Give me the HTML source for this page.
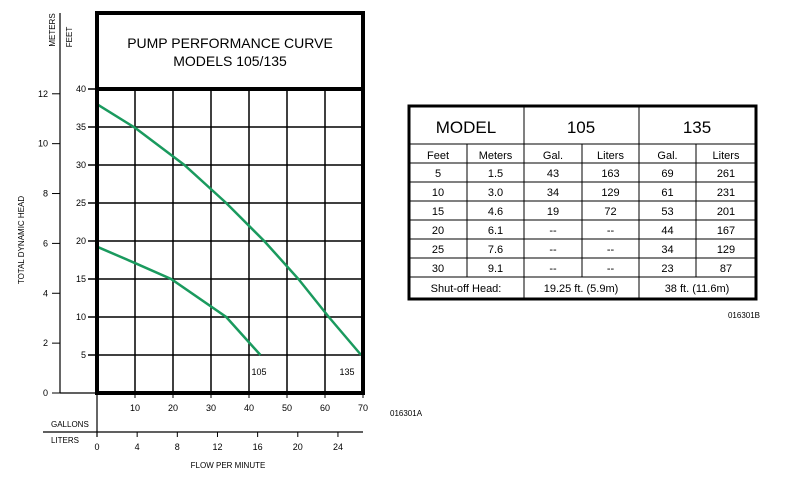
<!DOCTYPE html>
<html><head><meta charset="utf-8"><style>
body{margin:0;background:#fff;font-family:"Liberation Sans",Arial,sans-serif;}
svg{display:block}
text{font-family:"Liberation Sans",Arial,sans-serif;fill:#000}
</style></head><body>
<svg id="chart" width="795" height="487" viewBox="0 0 795 487" xmlns="http://www.w3.org/2000/svg">
<g id="grid"></g>
<g id="curves"></g>
<g id="axes"></g>
<g id="table"></g>
</svg>
<script>
const gpmTicks=[10,20,30,40,50,60,70];
const ftTicks=[5,10,15,20,25,30,35,40];
const mTicks=[0,2,4,6,8,10,12];
const literTicks=[0,4,8,12,16,20,24];
const curve135Gpm=[0,10,23,34,44,53,61,69.5];
const curve135Ft=[38,34.9,30,25,20,15,10,5];
const curve105Gpm=[0,10,19.5,34,43];
const curve105Ft=[19.25,17.1,15,10,5];
const tableHead=["Feet","Meters","Gal.","Liters","Gal.","Liters"];
const tableRows=[["5","1.5","43","163","69","261"],["10","3.0","34","129","61","231"],["15","4.6","19","72","53","201"],["20","6.1","--","--","44","167"],["25","7.6","--","--","34","129"],["30","9.1","--","--","23","87"]];

const NS="http://www.w3.org/2000/svg";
const X0=97,X1=363,Y0=393,Y1=89;
const x=g=>X0+(X1-X0)*g/70;
const y=f=>Y0-(Y0-Y1)*f/40;
const ym=m=>y(m*3.2808);
const xl=l=>X0+(X1-X0)*l/(70*0.3785);
function mk(p,tag,a,txt){const e=document.createElementNS(NS,tag);for(const k in a)e.setAttribute(k,a[k]);if(txt!==undefined)e.textContent=txt;p.appendChild(e);return e;}
const G=document.getElementById('grid'),C=document.getElementById('curves'),A=document.getElementById('axes'),T=document.getElementById('table');

gpmTicks.slice(0,-1).forEach(g=>{const l=mk(G,'line',{x1:x(g),x2:x(g),y1:Y1,y2:Y0,stroke:'#000','stroke-width':1.5});

});
ftTicks.slice(0,-1).forEach(f=>{const l=mk(G,'line',{x1:88,x2:X1,y1:y(f),y2:y(f),stroke:'#000','stroke-width':1.5});


const t=mk(A,'text',{x:86,y:y(f)+3,'font-size':9,'text-anchor':'end'},f);

});
const t40=mk(A,'text',{x:86,y:y(40)+3,'font-size':9,'text-anchor':'end'},'40');


mk(A,'line',{x1:88,x2:97,y1:y(40),y2:y(40),stroke:'#000','stroke-width':1.5});

function pl(gs,fs,name){const p=mk(C,'polyline',{points:gs.map((g,i)=>x(g)+','+y(fs[i])).join(' '),fill:'none',stroke:'#1a9a5e','stroke-width':2.5});

}
pl(curve135Gpm,curve135Ft,'curve-135');
pl(curve105Gpm,curve105Ft,'curve-105');
mk(A,'text',{x:259,y:375,'font-size':9,'text-anchor':'middle'},'105');
mk(A,'text',{x:347,y:375,'font-size':9,'text-anchor':'middle'},'135');

// title box and plot frame
mk(A,'rect',{x:X0,y:13,width:X1-X0,height:Y0-13,fill:'none',stroke:'#000','stroke-width':4});
mk(A,'line',{x1:X0,x2:X1,y1:Y1,y2:Y1,stroke:'#000','stroke-width':4});
mk(A,'text',{x:230,y:48,'font-size':14,'text-anchor':'middle'},'PUMP PERFORMANCE CURVE');
mk(A,'text',{x:230,y:66,'font-size':14,'text-anchor':'middle'},'MODELS 105/135');

// meters axis
mk(A,'line',{x1:60,x2:60,y1:13,y2:Y0,stroke:'#000','stroke-width':1.2});
mk(A,'line',{x1:60,x2:X0,y1:Y0,y2:Y0,stroke:'#000','stroke-width':1.2});
mTicks.forEach(m=>{mk(A,'line',{x1:52,x2:60,y1:ym(m),y2:ym(m),stroke:'#000','stroke-width':1});
const t=mk(A,'text',{x:48,y:ym(m)+3,'font-size':9,'text-anchor':'end'},m);

});
mk(A,'text',{transform:'translate(55,30) rotate(-90)','font-size':8,'text-anchor':'middle'},'METERS');
mk(A,'text',{transform:'translate(72,37) rotate(-90)','font-size':8,'text-anchor':'middle'},'FEET');
mk(A,'text',{transform:'translate(24,240) rotate(-90)','font-size':8,'text-anchor':'middle'},'TOTAL DYNAMIC HEAD');

// bottom axes
mk(A,'line',{x1:X0,x2:X0,y1:Y0,y2:437,stroke:'#000','stroke-width':1.2});
mk(A,'line',{x1:43,x2:X1,y1:432,y2:432,stroke:'#000','stroke-width':1.2});
gpmTicks.forEach(g=>{mk(A,'line',{x1:x(g),x2:x(g),y1:Y0,y2:Y0+5,stroke:'#000','stroke-width':1});
const t=mk(A,'text',{x:x(g),y:411,'font-size':9,'text-anchor':'middle'},g);

});
literTicks.forEach(l=>{mk(A,'line',{x1:xl(l),x2:xl(l),y1:432,y2:437,stroke:'#000','stroke-width':1});
const t=mk(A,'text',{x:xl(l),y:450,'font-size':9,'text-anchor':'middle'},l);

});
mk(A,'text',{x:51,y:427,'font-size':8},'GALLONS');
mk(A,'text',{x:51,y:443,'font-size':8},'LITERS');
mk(A,'text',{x:228,y:468,'font-size':8,'text-anchor':'middle'},'FLOW PER MINUTE');
mk(A,'text',{x:390,y:416,'font-size':8},'016301A');

// table
const cx=[409,467,524,582,639,696,756];
const ry=[106,144,163,182,201,220,239,258,277,299];
mk(T,'rect',{x:409,y:106,width:347,height:193,fill:'none',stroke:'#000','stroke-width':3});
ry.slice(1,-1).forEach(v=>mk(T,'line',{x1:409,x2:756,y1:v,y2:v,stroke:'#000','stroke-width':1}));
[524,639].forEach(v=>mk(T,'line',{x1:v,x2:v,y1:106,y2:299,stroke:'#000','stroke-width':1}));
[467,582,696].forEach(v=>mk(T,'line',{x1:v,x2:v,y1:144,y2:277,stroke:'#000','stroke-width':1}));
[["MODEL",466],["105",581],["135",697]].forEach(([s,px])=>{const t=mk(T,'text',{x:px,y:133,'font-size':17,'text-anchor':'middle'},s);

});
tableHead.forEach((h,i)=>{const t=mk(T,'text',{x:(cx[i]+cx[i+1])/2,y:159,'font-size':11,'text-anchor':'middle'},h);

});
tableRows.forEach((r,j)=>r.forEach((v,i)=>{const t=mk(T,'text',{x:(cx[i]+cx[i+1])/2,y:ry[j+2]+14,'font-size':11,'text-anchor':'middle'},v);

}));
[["Shut-off Head:",466],["19.25 ft. (5.9m)",581],["38 ft. (11.6m)",697]].forEach(([s,px])=>{const t=mk(T,'text',{x:px,y:292,'font-size':11,'text-anchor':'middle'},s);

});
mk(T,'text',{x:760,y:318,'font-size':8,'text-anchor':'end'},'016301B');
</script>
</body></html>
